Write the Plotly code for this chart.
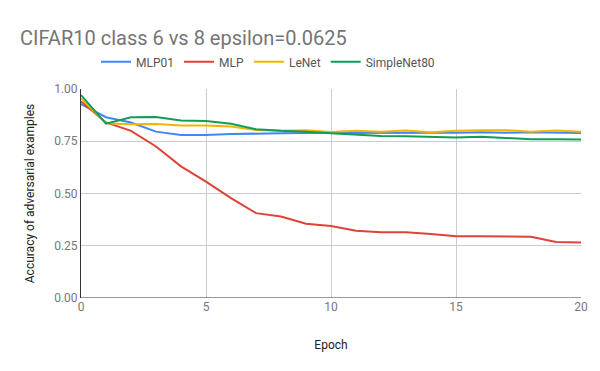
import plotly.graph_objects as go

epochs = list(range(21))

mlp01 = [0.928, 0.865, 0.840, 0.796, 0.780, 0.780, 0.785, 0.788, 0.788, 0.790, 0.790,
         0.788, 0.788, 0.788, 0.789, 0.791, 0.793, 0.791, 0.793, 0.793, 0.790]
mlp = [0.940, 0.840, 0.800, 0.725, 0.630, 0.557, 0.478, 0.406, 0.390, 0.355, 0.344,
       0.322, 0.315, 0.314, 0.306, 0.296, 0.295, 0.295, 0.293, 0.268, 0.266]
lenet = [0.955, 0.836, 0.831, 0.833, 0.825, 0.825, 0.820, 0.804, 0.800, 0.803, 0.794,
         0.800, 0.796, 0.801, 0.793, 0.800, 0.803, 0.803, 0.796, 0.801, 0.795]
simplenet80 = [0.971, 0.834, 0.865, 0.866, 0.849, 0.847, 0.834, 0.807, 0.800, 0.796, 0.788,
               0.780, 0.775, 0.774, 0.771, 0.768, 0.771, 0.764, 0.760, 0.760, 0.758]

series = [("MLP01", mlp01, "#4285F4"),
          ("MLP", mlp, "#DB4437"),
          ("LeNet", lenet, "#F4B400"),
          ("SimpleNet80", simplenet80, "#0F9D58")]

fig = go.Figure()
for name, vals, col in series:
    fig.add_trace(go.Scatter(x=epochs, y=vals, name=name, mode="lines",
                             line=dict(color=col, width=2)))

fig.update_layout(
    width=600, height=371,
    margin=dict(l=81, r=19, t=89, b=73, autoexpand=False),
    paper_bgcolor="white", plot_bgcolor="white",
    font=dict(family="Roboto", size=12, color="#444"),
    title=dict(text="CIFAR10 class 6 vs 8 epsilon=0.0625", x=20/600, xanchor="left",
               y=1 - 38/371, yanchor="middle",
               font=dict(family="Roboto", size=20, color="#757575")),
    legend=dict(orientation="h", x=0.03, xanchor="left", y=1.13, yanchor="middle",
                font=dict(size=12, color="#555"), itemwidth=30, tracegroupgap=0),
    showlegend=True,
)
fig.update_xaxes(range=[0, 20], tickvals=[0, 5, 10, 15, 20], showgrid=True,
                 gridcolor="#ccc", zeroline=False, showline=False, automargin=False,
                 tickfont=dict(color="#777"),
                 title=dict(text="Epoch", font=dict(color="#222", size=12), standoff=27))
fig.update_yaxes(range=[0, 1], tickvals=[0, 0.25, 0.5, 0.75, 1], tickformat=".2f",
                 showgrid=True, gridcolor="#ccc", zeroline=False, automargin=True,
                 showline=True, linecolor="#333", linewidth=1,
                 tickfont=dict(color="#777"),
                 title=dict(text="Accuracy of adversarial examples",
                            font=dict(color="#222", size=12), standoff=16))
fig.add_hline(y=0, line_color="#333", line_width=1)

fig.write_html("out.html", config={"displayModeBar": False},
               post_script="document.body.style.margin='0';")
